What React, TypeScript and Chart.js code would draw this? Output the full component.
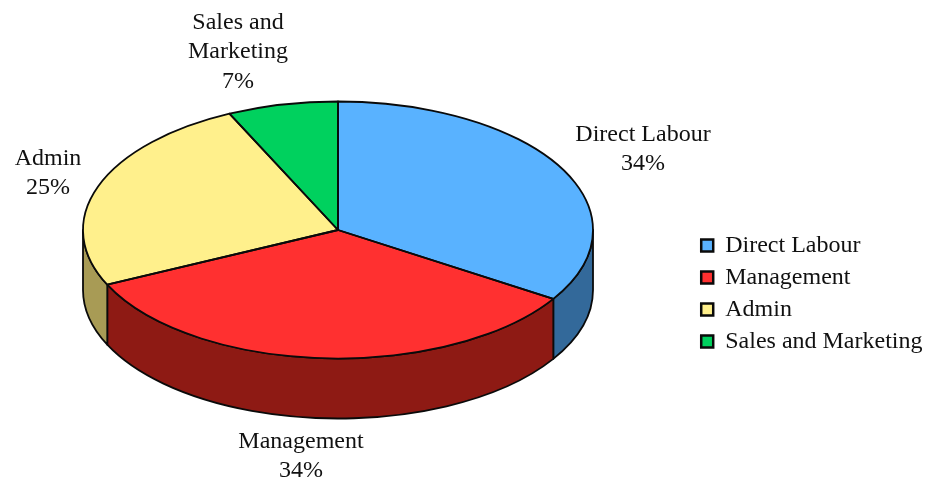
import React, { useEffect, useRef } from "react";
import { Chart, registerables, Plugin } from "chart.js";

Chart.register(...registerables);

const categories = ["Direct Labour", "Management", "Admin", "Sales and Marketing"];
const shares = [34, 34, 25, 7];
const topColors = ["#59B2FF", "#FF3030", "#FFF08C", "#00D15E"];
const sideColors = ["#33699A", "#8E1A14", "#A89B55", "#007A38"];
const labelLines = [["Direct Labour"], ["Management"], ["Admin"], ["Sales and", "Marketing"]];

// Where each callout block is centred, relative to the pie centre.
const labelOffsets = [
  [305, -81],
  [-37, 226],
  [-290, -57],
  [-100, -178],
];

const PIE = { cx: 338, cy: 230, rx: 255, ry: 128.5, depth: 60 };
const FONT = '"Liberation Serif", serif';
const INK = "#111111";
const OUTLINE = "#0A0A0A";

const wedgePath = (ctx: CanvasRenderingContext2D, start: number, end: number) => {
  ctx.beginPath();
  ctx.moveTo(PIE.cx, PIE.cy);
  ctx.ellipse(PIE.cx, PIE.cy, PIE.rx, PIE.ry, 0, start, end);
  ctx.closePath();
};

// Gives the pie its tilt and thickness: the side wall is painted first, the
// slices are then flattened into an ellipse, and the outlines go on last so
// their width is not squashed by the flattening.
const tiltedPie: Plugin<"pie"> = {
  id: "tiltedPie",
  beforeDatasetsDraw(chart) {
    const { ctx } = chart;
    const arcs = chart.getDatasetMeta(0).data as any[];
    ctx.save();
    ctx.lineWidth = 1.8;
    ctx.strokeStyle = OUTLINE;
    ctx.lineJoin = "round";
    arcs.forEach((arc, i) => {
      const a = Math.max(arc.startAngle, 0);
      const b = Math.min(arc.endAngle, Math.PI);
      if (a >= b) return;
      ctx.beginPath();
      ctx.ellipse(PIE.cx, PIE.cy, PIE.rx, PIE.ry, 0, a, b);
      ctx.ellipse(PIE.cx, PIE.cy + PIE.depth, PIE.rx, PIE.ry, 0, b, a, true);
      ctx.closePath();
      ctx.fillStyle = sideColors[i];
      ctx.fill();
      ctx.stroke();
    });
    ctx.restore();

    const first = arcs[0];
    ctx.save();
    ctx.translate(PIE.cx, PIE.cy);
    ctx.scale(PIE.rx / first.outerRadius, PIE.ry / first.outerRadius);
    ctx.translate(-first.x, -first.y);
  },
  afterDatasetsDraw(chart) {
    const { ctx } = chart;
    ctx.restore();
    const arcs = chart.getDatasetMeta(0).data as any[];
    ctx.save();
    ctx.lineWidth = 1.8;
    ctx.strokeStyle = OUTLINE;
    ctx.lineJoin = "round";
    arcs.forEach((arc) => {
      wedgePath(ctx, arc.startAngle, arc.endAngle);
      ctx.stroke();
    });
    ctx.restore();
  },
  afterDraw(chart) {
    const { ctx } = chart;
    const values = chart.data.datasets[0].data as number[];
    ctx.save();
    ctx.font = `24px ${FONT}`;
    ctx.fillStyle = INK;
    ctx.textAlign = "center";
    ctx.textBaseline = "middle";
    const lineHeight = 29.5;
    values.forEach((v, i) => {
      const lines = [...labelLines[i], `${v}%`];
      const x = PIE.cx + labelOffsets[i][0];
      const y0 = PIE.cy + labelOffsets[i][1] - ((lines.length - 1) * lineHeight) / 2;
      lines.forEach((t, j) => ctx.fillText(t, x, y0 + j * lineHeight));
    });
    ctx.restore();
  },
};

export default function App() {
  const ref = useRef<HTMLCanvasElement>(null);
  useEffect(() => {
    const chart = new Chart(ref.current!, {
      type: "pie",
      data: {
        labels: categories,
        datasets: [
          {
            data: shares,
            backgroundColor: topColors,
            borderWidth: 0,
            clip: false,
            radius: PIE.rx,
          } as any,
        ],
      },
      options: {
        responsive: false,
        animation: false,
        layout: { padding: { top: 106, right: -2.5 } },
        plugins: {
          tooltip: { enabled: false },
          title: { display: false },
          legend: {
            position: "right",
            labels: {
              boxWidth: 12,
              boxHeight: 12,
              padding: 8,
              color: INK,
              font: { family: FONT, size: 24 },
              generateLabels: () =>
                categories.map((text, i) => ({
                  text,
                  index: i,
                  fillStyle: topColors[i],
                  strokeStyle: OUTLINE,
                  lineWidth: 2.5,
                  fontColor: INK,
                  hidden: false,
                })),
            },
          },
        },
      },
      plugins: [tiltedPie],
    });
    return () => chart.destroy();
  }, []);
  return (
    <canvas
      ref={ref}
      width={930}
      height={481}
      style={{ position: "fixed", left: 0, top: 0, display: "block", background: "#fff" }}
    />
  );
}
